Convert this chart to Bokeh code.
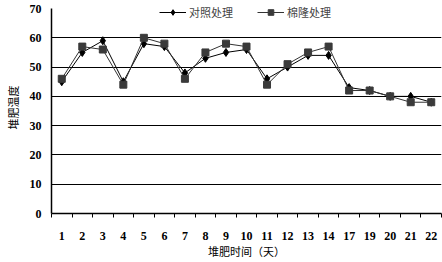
from bokeh.plotting import figure
from bokeh.models import FixedTicker, Range1d, Legend, LegendItem
from bokeh.embed import file_html
from bokeh.resources import INLINE

days = ["1", "2", "3", "4", "5", "6", "7", "8", "9", "10", "11", "12", "13", "14", "17", "19", "20", "21", "22"]
control = [45, 55, 59, 45, 58, 57, 48, 53, 55, 56, 46, 50, 54, 54, 43, 42, 40, 40, 38]
treated = [46, 57, 56, 44, 60, 58, 46, 55, 58, 57, 44, 51, 55, 57, 42, 42, 40, 38, 38]
y_ticks = [0, 10, 20, 30, 40, 50, 60, 70]

xs = [i + 0.5 for i in range(len(days))]

p = figure(width=442, height=262, output_backend="svg", toolbar_location=None,
           x_range=Range1d(0, len(days)), y_range=Range1d(0, 72.4),
           min_border_left=51, min_border_right=1, min_border_top=1, min_border_bottom=49)
p.outline_line_color = None
p.background_fill_color = "white"
p.border_fill_color = "white"

# grid
p.xgrid.grid_line_color = None
p.ygrid.grid_line_color = "black"
p.ygrid.grid_line_width = 1
p.ygrid.ticker = FixedTicker(ticks=[10, 20, 30, 40, 50, 60])

# x axis
p.xaxis.ticker = FixedTicker(ticks=xs, minor_ticks=list(range(len(days) + 1)))
p.xaxis.major_label_overrides = {x: d for x, d in zip(xs, days)}
p.xaxis.major_tick_line_color = None
p.xaxis.major_tick_out = 0
p.xaxis.major_tick_in = 0
p.xaxis.minor_tick_line_color = "black"
p.xaxis.minor_tick_out = 4
p.xaxis.minor_tick_in = 0
p.xaxis.axis_line_color = "black"
p.xaxis.axis_line_width = 1.5
p.xaxis.major_label_standoff = 14
p.xaxis.major_label_text_font = "Liberation Serif"
p.xaxis.major_label_text_font_style = "bold"
p.xaxis.major_label_text_font_size = "12px"
p.xaxis.major_label_text_color = "black"
p.xaxis.axis_label = "堆肥时间（天）"
p.xaxis.axis_label_text_font = "Noto Sans CJK SC"
p.xaxis.axis_label_text_font_style = "normal"
p.xaxis.axis_label_text_font_size = "11px"
p.xaxis.axis_label_text_color = "black"
p.xaxis.axis_label_standoff = 0

# y axis
p.yaxis.ticker = FixedTicker(ticks=y_ticks)
p.yaxis.bounds = (0, 70)
p.yaxis.major_tick_line_color = None
p.yaxis.major_tick_out = 0
p.yaxis.major_tick_in = 0
p.yaxis.minor_tick_line_color = None
p.yaxis.axis_line_color = "black"
p.yaxis.axis_line_width = 1.5
p.yaxis.major_label_standoff = 10
p.yaxis.major_label_text_font = "Liberation Serif"
p.yaxis.major_label_text_font_style = "bold"
p.yaxis.major_label_text_font_size = "12px"
p.yaxis.major_label_text_color = "black"
p.yaxis.axis_label = "堆肥温度"
p.yaxis.axis_label_text_font = "Noto Sans CJK SC"
p.yaxis.axis_label_text_font_style = "normal"
p.yaxis.axis_label_text_font_size = "11px"
p.yaxis.axis_label_text_color = "black"
p.yaxis.axis_label_standoff = 6

l1 = p.line(xs, control, line_color="black", line_width=1)
m1 = p.scatter(xs, control, marker="diamond", size=8, fill_color="black", line_color="black")
l2 = p.line(xs, treated, line_color="#333333", line_width=1)
m2 = p.scatter(xs, treated, marker="square", size=7, fill_color="#3a3a3a", line_color="#3a3a3a")

legend = Legend(items=[LegendItem(label="对照处理", renderers=[l1, m1]),
                       LegendItem(label="棉隆处理", renderers=[l2, m2])],
                location=(108, 193), orientation="horizontal",
                background_fill_alpha=0, border_line_color=None,
                glyph_width=27, glyph_height=14, label_standoff=3, spacing=24,
                padding=0, margin=0, label_height=14,
                label_text_font="Noto Sans CJK SC", label_text_font_size="11px")
p.add_layout(legend)

open("out.html", "w").write(file_html(p, INLINE))
